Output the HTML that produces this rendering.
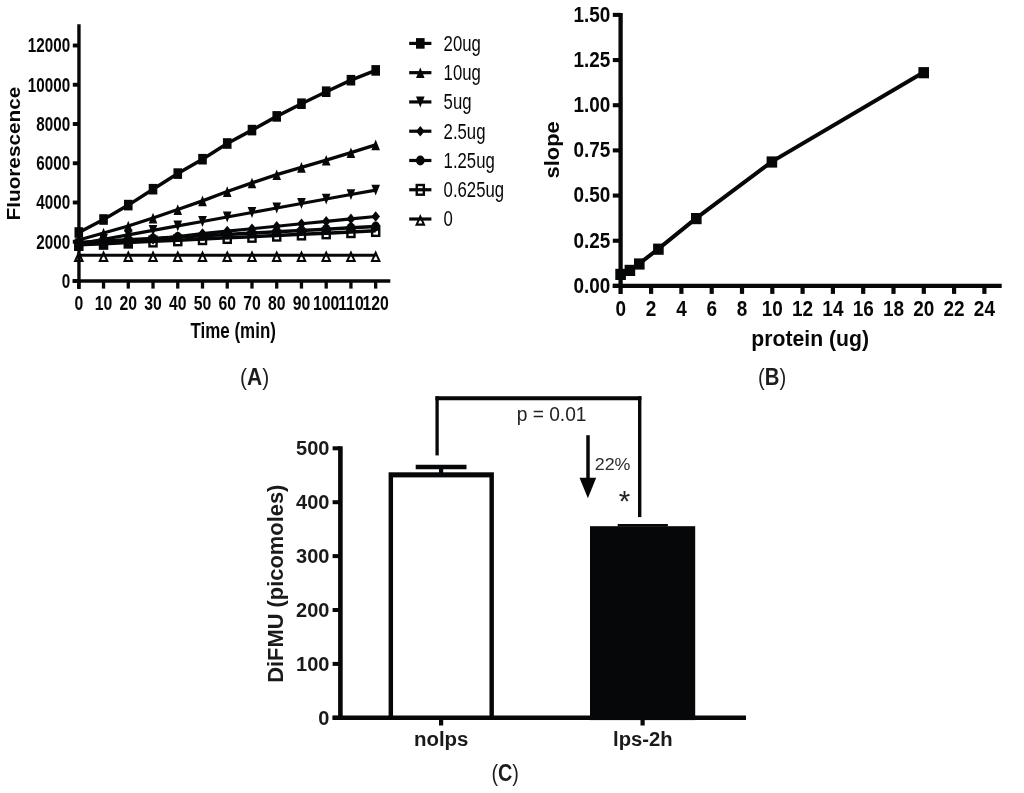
<!DOCTYPE html>
<html lang="en">
<head>
<meta charset="utf-8">
<title>Figure</title>
<style>
html,body{margin:0;padding:0;background:#fff;}
body{width:1024px;height:793px;overflow:hidden;}
svg{display:block;font-family:"Liberation Sans", sans-serif;}
</style>
</head>
<body>
<svg width="1024" height="793" viewBox="0 0 1024 793">
<rect x="0" y="0" width="1024" height="793" fill="#ffffff"/>
<g id="panelA">
<polygon points="78.80,252.80 82.50,260.90 75.10,260.90" fill="#fff" stroke="#060708" stroke-width="2.05" stroke-linejoin="miter"/>
<polygon points="103.54,252.80 107.24,260.90 99.84,260.90" fill="#fff" stroke="#060708" stroke-width="2.05" stroke-linejoin="miter"/>
<polygon points="128.28,252.80 131.98,260.90 124.58,260.90" fill="#fff" stroke="#060708" stroke-width="2.05" stroke-linejoin="miter"/>
<polygon points="153.02,252.80 156.72,260.90 149.32,260.90" fill="#fff" stroke="#060708" stroke-width="2.05" stroke-linejoin="miter"/>
<polygon points="177.76,252.80 181.46,260.90 174.06,260.90" fill="#fff" stroke="#060708" stroke-width="2.05" stroke-linejoin="miter"/>
<polygon points="202.50,252.80 206.20,260.90 198.80,260.90" fill="#fff" stroke="#060708" stroke-width="2.05" stroke-linejoin="miter"/>
<polygon points="227.24,252.80 230.94,260.90 223.54,260.90" fill="#fff" stroke="#060708" stroke-width="2.05" stroke-linejoin="miter"/>
<polygon points="251.98,252.80 255.68,260.90 248.28,260.90" fill="#fff" stroke="#060708" stroke-width="2.05" stroke-linejoin="miter"/>
<polygon points="276.72,252.80 280.42,260.90 273.02,260.90" fill="#fff" stroke="#060708" stroke-width="2.05" stroke-linejoin="miter"/>
<polygon points="301.46,252.80 305.16,260.90 297.76,260.90" fill="#fff" stroke="#060708" stroke-width="2.05" stroke-linejoin="miter"/>
<polygon points="326.20,252.80 329.90,260.90 322.50,260.90" fill="#fff" stroke="#060708" stroke-width="2.05" stroke-linejoin="miter"/>
<polygon points="350.94,252.80 354.64,260.90 347.24,260.90" fill="#fff" stroke="#060708" stroke-width="2.05" stroke-linejoin="miter"/>
<polygon points="375.68,252.80 379.38,260.90 371.98,260.90" fill="#fff" stroke="#060708" stroke-width="2.05" stroke-linejoin="miter"/>
<polyline points="78.80,255.30 103.54,255.30 128.28,255.30 153.02,255.30 177.76,255.30 202.50,255.30 227.24,255.30 251.98,255.30 276.72,255.30 301.46,255.30 326.20,255.30 350.94,255.30 375.68,255.30" fill="none" stroke="#060708" stroke-width="3.1" stroke-linejoin="miter"/>
<rect x="74.05" y="239.80" width="9.50" height="11.20" fill="#060708" stroke="none" stroke-width="0"/>
<rect x="98.79" y="238.63" width="9.50" height="11.20" fill="#060708" stroke="none" stroke-width="0"/>
<rect x="123.53" y="237.47" width="9.50" height="11.20" fill="#060708" stroke="none" stroke-width="0"/>
<rect x="149.47" y="236.65" width="7.10" height="9.70" fill="#fff" stroke="#060708" stroke-width="2.4"/>
<rect x="174.21" y="235.48" width="7.10" height="9.70" fill="#fff" stroke="#060708" stroke-width="2.4"/>
<rect x="198.95" y="234.32" width="7.10" height="9.70" fill="#fff" stroke="#060708" stroke-width="2.4"/>
<rect x="223.69" y="233.15" width="7.10" height="9.70" fill="#fff" stroke="#060708" stroke-width="2.4"/>
<rect x="248.43" y="231.98" width="7.10" height="9.70" fill="#fff" stroke="#060708" stroke-width="2.4"/>
<rect x="273.17" y="230.82" width="7.10" height="9.70" fill="#fff" stroke="#060708" stroke-width="2.4"/>
<rect x="297.91" y="229.65" width="7.10" height="9.70" fill="#fff" stroke="#060708" stroke-width="2.4"/>
<rect x="322.65" y="228.48" width="7.10" height="9.70" fill="#fff" stroke="#060708" stroke-width="2.4"/>
<rect x="347.39" y="227.32" width="7.10" height="9.70" fill="#fff" stroke="#060708" stroke-width="2.4"/>
<rect x="372.13" y="226.15" width="7.10" height="9.70" fill="#fff" stroke="#060708" stroke-width="2.4"/>
<polyline points="78.80,244.80 103.54,243.63 128.28,242.47 153.02,241.30 177.76,240.13 202.50,238.97 227.24,237.80 251.98,236.63 276.72,235.47 301.46,234.30 326.20,233.13 350.94,231.97 375.68,230.80" fill="none" stroke="#060708" stroke-width="3.5" stroke-linejoin="miter"/>
<polyline points="78.80,242.40 103.54,241.08 128.28,239.75 153.02,238.43 177.76,237.10 202.50,235.78 227.24,234.45 251.98,233.12 276.72,231.80 301.46,230.47 326.20,229.15 350.94,227.82 375.68,226.50" fill="none" stroke="#060708" stroke-width="3.5" stroke-linejoin="miter"/>
<ellipse cx="78.80" cy="242.40" rx="4.30" ry="5.00" fill="#060708"/>
<ellipse cx="103.54" cy="241.08" rx="4.30" ry="5.00" fill="#060708"/>
<ellipse cx="128.28" cy="239.75" rx="4.30" ry="5.00" fill="#060708"/>
<ellipse cx="153.02" cy="238.43" rx="4.30" ry="5.00" fill="#060708"/>
<ellipse cx="177.76" cy="237.10" rx="4.30" ry="5.00" fill="#060708"/>
<ellipse cx="202.50" cy="235.78" rx="4.30" ry="5.00" fill="#060708"/>
<ellipse cx="227.24" cy="234.45" rx="4.30" ry="5.00" fill="#060708"/>
<ellipse cx="251.98" cy="233.12" rx="4.30" ry="5.00" fill="#060708"/>
<ellipse cx="276.72" cy="231.80" rx="4.30" ry="5.00" fill="#060708"/>
<ellipse cx="301.46" cy="230.47" rx="4.30" ry="5.00" fill="#060708"/>
<ellipse cx="326.20" cy="229.15" rx="4.30" ry="5.00" fill="#060708"/>
<ellipse cx="350.94" cy="227.82" rx="4.30" ry="5.00" fill="#060708"/>
<ellipse cx="375.68" cy="226.50" rx="4.30" ry="5.00" fill="#060708"/>
<polyline points="78.80,243.30 103.54,242.40 128.28,241.00 153.02,239.30 177.76,236.50 202.50,233.60 227.24,231.10 251.98,228.70 276.72,226.20 301.46,223.80 326.20,221.40 350.94,218.90 375.68,216.50" fill="none" stroke="#060708" stroke-width="3.1" stroke-linejoin="miter"/>
<polygon points="78.80,238.00 83.10,243.30 78.80,248.60 74.50,243.30" fill="#060708" stroke="none" stroke-width="0" stroke-linejoin="miter"/>
<polygon points="103.54,237.10 107.84,242.40 103.54,247.70 99.24,242.40" fill="#060708" stroke="none" stroke-width="0" stroke-linejoin="miter"/>
<polygon points="128.28,235.70 132.58,241.00 128.28,246.30 123.98,241.00" fill="#060708" stroke="none" stroke-width="0" stroke-linejoin="miter"/>
<polygon points="153.02,234.00 157.32,239.30 153.02,244.60 148.72,239.30" fill="#060708" stroke="none" stroke-width="0" stroke-linejoin="miter"/>
<polygon points="177.76,231.20 182.06,236.50 177.76,241.80 173.46,236.50" fill="#060708" stroke="none" stroke-width="0" stroke-linejoin="miter"/>
<polygon points="202.50,228.30 206.80,233.60 202.50,238.90 198.20,233.60" fill="#060708" stroke="none" stroke-width="0" stroke-linejoin="miter"/>
<polygon points="227.24,225.80 231.54,231.10 227.24,236.40 222.94,231.10" fill="#060708" stroke="none" stroke-width="0" stroke-linejoin="miter"/>
<polygon points="251.98,223.40 256.28,228.70 251.98,234.00 247.68,228.70" fill="#060708" stroke="none" stroke-width="0" stroke-linejoin="miter"/>
<polygon points="276.72,220.90 281.02,226.20 276.72,231.50 272.42,226.20" fill="#060708" stroke="none" stroke-width="0" stroke-linejoin="miter"/>
<polygon points="301.46,218.50 305.76,223.80 301.46,229.10 297.16,223.80" fill="#060708" stroke="none" stroke-width="0" stroke-linejoin="miter"/>
<polygon points="326.20,216.10 330.50,221.40 326.20,226.70 321.90,221.40" fill="#060708" stroke="none" stroke-width="0" stroke-linejoin="miter"/>
<polygon points="350.94,213.60 355.24,218.90 350.94,224.20 346.64,218.90" fill="#060708" stroke="none" stroke-width="0" stroke-linejoin="miter"/>
<polygon points="375.68,211.20 379.98,216.50 375.68,221.80 371.38,216.50" fill="#060708" stroke="none" stroke-width="0" stroke-linejoin="miter"/>
<polyline points="78.80,243.80 103.54,239.33 128.28,234.85 153.02,230.38 177.76,225.90 202.50,221.43 227.24,216.95 251.98,212.47 276.72,208.00 301.46,203.53 326.20,199.05 350.94,194.57 375.68,190.10" fill="none" stroke="#060708" stroke-width="3.1" stroke-linejoin="miter"/>
<polygon points="74.50,238.40 83.10,238.40 78.80,249.30" fill="#060708" stroke="none" stroke-width="0" stroke-linejoin="miter"/>
<polygon points="99.24,233.93 107.84,233.93 103.54,244.83" fill="#060708" stroke="none" stroke-width="0" stroke-linejoin="miter"/>
<polygon points="123.98,229.45 132.58,229.45 128.28,240.35" fill="#060708" stroke="none" stroke-width="0" stroke-linejoin="miter"/>
<polygon points="148.72,224.97 157.32,224.97 153.02,235.88" fill="#060708" stroke="none" stroke-width="0" stroke-linejoin="miter"/>
<polygon points="173.46,220.50 182.06,220.50 177.76,231.40" fill="#060708" stroke="none" stroke-width="0" stroke-linejoin="miter"/>
<polygon points="198.20,216.03 206.80,216.03 202.50,226.93" fill="#060708" stroke="none" stroke-width="0" stroke-linejoin="miter"/>
<polygon points="222.94,211.55 231.54,211.55 227.24,222.45" fill="#060708" stroke="none" stroke-width="0" stroke-linejoin="miter"/>
<polygon points="247.68,207.07 256.28,207.07 251.98,217.97" fill="#060708" stroke="none" stroke-width="0" stroke-linejoin="miter"/>
<polygon points="272.42,202.60 281.02,202.60 276.72,213.50" fill="#060708" stroke="none" stroke-width="0" stroke-linejoin="miter"/>
<polygon points="297.16,198.12 305.76,198.12 301.46,209.03" fill="#060708" stroke="none" stroke-width="0" stroke-linejoin="miter"/>
<polygon points="321.90,193.65 330.50,193.65 326.20,204.55" fill="#060708" stroke="none" stroke-width="0" stroke-linejoin="miter"/>
<polygon points="346.64,189.17 355.24,189.17 350.94,200.07" fill="#060708" stroke="none" stroke-width="0" stroke-linejoin="miter"/>
<polygon points="371.38,184.70 379.98,184.70 375.68,195.60" fill="#060708" stroke="none" stroke-width="0" stroke-linejoin="miter"/>
<polyline points="78.80,240.00 103.54,233.00 128.28,226.00 153.02,218.00 177.76,209.50 202.50,200.80 227.24,191.50 251.98,182.90 276.72,174.70 301.46,167.30 326.20,160.10 350.94,152.60 375.68,144.80" fill="none" stroke="#060708" stroke-width="3.35" stroke-linejoin="miter"/>
<polygon points="78.80,234.80 83.10,245.40 74.50,245.40" fill="#060708" stroke="none" stroke-width="0" stroke-linejoin="miter"/>
<polygon points="103.54,227.80 107.84,238.40 99.24,238.40" fill="#060708" stroke="none" stroke-width="0" stroke-linejoin="miter"/>
<polygon points="128.28,220.80 132.58,231.40 123.98,231.40" fill="#060708" stroke="none" stroke-width="0" stroke-linejoin="miter"/>
<polygon points="153.02,212.80 157.32,223.40 148.72,223.40" fill="#060708" stroke="none" stroke-width="0" stroke-linejoin="miter"/>
<polygon points="177.76,204.30 182.06,214.90 173.46,214.90" fill="#060708" stroke="none" stroke-width="0" stroke-linejoin="miter"/>
<polygon points="202.50,195.60 206.80,206.20 198.20,206.20" fill="#060708" stroke="none" stroke-width="0" stroke-linejoin="miter"/>
<polygon points="227.24,186.30 231.54,196.90 222.94,196.90" fill="#060708" stroke="none" stroke-width="0" stroke-linejoin="miter"/>
<polygon points="251.98,177.70 256.28,188.30 247.68,188.30" fill="#060708" stroke="none" stroke-width="0" stroke-linejoin="miter"/>
<polygon points="276.72,169.50 281.02,180.10 272.42,180.10" fill="#060708" stroke="none" stroke-width="0" stroke-linejoin="miter"/>
<polygon points="301.46,162.10 305.76,172.70 297.16,172.70" fill="#060708" stroke="none" stroke-width="0" stroke-linejoin="miter"/>
<polygon points="326.20,154.90 330.50,165.50 321.90,165.50" fill="#060708" stroke="none" stroke-width="0" stroke-linejoin="miter"/>
<polygon points="350.94,147.40 355.24,158.00 346.64,158.00" fill="#060708" stroke="none" stroke-width="0" stroke-linejoin="miter"/>
<polygon points="375.68,139.60 379.98,150.20 371.38,150.20" fill="#060708" stroke="none" stroke-width="0" stroke-linejoin="miter"/>
<polyline points="78.80,232.50 103.54,219.50 128.28,205.10 153.02,189.20 177.76,173.60 202.50,159.20 227.24,143.50 251.98,130.10 276.72,116.40 301.46,103.70 326.20,91.70 350.94,80.20 375.68,70.40" fill="none" stroke="#060708" stroke-width="3.5" stroke-linejoin="miter"/>
<rect x="74.50" y="227.20" width="8.60" height="10.60" fill="#060708" stroke="none" stroke-width="0"/>
<rect x="99.24" y="214.20" width="8.60" height="10.60" fill="#060708" stroke="none" stroke-width="0"/>
<rect x="123.98" y="199.80" width="8.60" height="10.60" fill="#060708" stroke="none" stroke-width="0"/>
<rect x="148.72" y="183.90" width="8.60" height="10.60" fill="#060708" stroke="none" stroke-width="0"/>
<rect x="173.46" y="168.30" width="8.60" height="10.60" fill="#060708" stroke="none" stroke-width="0"/>
<rect x="198.20" y="153.90" width="8.60" height="10.60" fill="#060708" stroke="none" stroke-width="0"/>
<rect x="222.94" y="138.20" width="8.60" height="10.60" fill="#060708" stroke="none" stroke-width="0"/>
<rect x="247.68" y="124.80" width="8.60" height="10.60" fill="#060708" stroke="none" stroke-width="0"/>
<rect x="272.42" y="111.10" width="8.60" height="10.60" fill="#060708" stroke="none" stroke-width="0"/>
<rect x="297.16" y="98.40" width="8.60" height="10.60" fill="#060708" stroke="none" stroke-width="0"/>
<rect x="321.90" y="86.40" width="8.60" height="10.60" fill="#060708" stroke="none" stroke-width="0"/>
<rect x="346.64" y="74.90" width="8.60" height="10.60" fill="#060708" stroke="none" stroke-width="0"/>
<rect x="371.38" y="65.10" width="8.60" height="10.60" fill="#060708" stroke="none" stroke-width="0"/>
<line x1="78.95" y1="24.20" x2="78.95" y2="289.00" stroke="#060708" stroke-width="3.4" stroke-linecap="butt"/>
<line x1="72.60" y1="281.00" x2="390.30" y2="281.00" stroke="#060708" stroke-width="3.4" stroke-linecap="butt"/>
<line x1="72.80" y1="281.00" x2="79.00" y2="281.00" stroke="#060708" stroke-width="3.9" stroke-linecap="butt"/>
<text transform="translate(70.10 287.80) scale(0.757 1.000)" font-size="20.1" font-weight="bold" text-anchor="end" fill="#060708">0</text>
<line x1="72.80" y1="241.75" x2="79.00" y2="241.75" stroke="#060708" stroke-width="3.9" stroke-linecap="butt"/>
<text transform="translate(70.10 248.55) scale(0.757 1.000)" font-size="20.1" font-weight="bold" text-anchor="end" fill="#060708">2000</text>
<line x1="72.80" y1="202.50" x2="79.00" y2="202.50" stroke="#060708" stroke-width="3.9" stroke-linecap="butt"/>
<text transform="translate(70.10 209.30) scale(0.757 1.000)" font-size="20.1" font-weight="bold" text-anchor="end" fill="#060708">4000</text>
<line x1="72.80" y1="163.25" x2="79.00" y2="163.25" stroke="#060708" stroke-width="3.9" stroke-linecap="butt"/>
<text transform="translate(70.10 170.05) scale(0.757 1.000)" font-size="20.1" font-weight="bold" text-anchor="end" fill="#060708">6000</text>
<line x1="72.80" y1="124.00" x2="79.00" y2="124.00" stroke="#060708" stroke-width="3.9" stroke-linecap="butt"/>
<text transform="translate(70.10 130.80) scale(0.757 1.000)" font-size="20.1" font-weight="bold" text-anchor="end" fill="#060708">8000</text>
<line x1="72.80" y1="84.75" x2="79.00" y2="84.75" stroke="#060708" stroke-width="3.9" stroke-linecap="butt"/>
<text transform="translate(70.10 91.55) scale(0.757 1.000)" font-size="20.1" font-weight="bold" text-anchor="end" fill="#060708">10000</text>
<line x1="72.80" y1="45.50" x2="79.00" y2="45.50" stroke="#060708" stroke-width="3.9" stroke-linecap="butt"/>
<text transform="translate(70.10 52.30) scale(0.757 1.000)" font-size="20.1" font-weight="bold" text-anchor="end" fill="#060708">12000</text>
<line x1="78.80" y1="281.00" x2="78.80" y2="288.60" stroke="#060708" stroke-width="3.3" stroke-linecap="butt"/>
<text transform="translate(78.80 309.70) scale(0.785 1.000)" font-size="20.1" font-weight="bold" text-anchor="middle" fill="#060708">0</text>
<line x1="103.54" y1="281.00" x2="103.54" y2="288.60" stroke="#060708" stroke-width="3.3" stroke-linecap="butt"/>
<text transform="translate(103.54 309.70) scale(0.785 1.000)" font-size="20.1" font-weight="bold" text-anchor="middle" fill="#060708">10</text>
<line x1="128.28" y1="281.00" x2="128.28" y2="288.60" stroke="#060708" stroke-width="3.3" stroke-linecap="butt"/>
<text transform="translate(128.28 309.70) scale(0.785 1.000)" font-size="20.1" font-weight="bold" text-anchor="middle" fill="#060708">20</text>
<line x1="153.02" y1="281.00" x2="153.02" y2="288.60" stroke="#060708" stroke-width="3.3" stroke-linecap="butt"/>
<text transform="translate(153.02 309.70) scale(0.785 1.000)" font-size="20.1" font-weight="bold" text-anchor="middle" fill="#060708">30</text>
<line x1="177.76" y1="281.00" x2="177.76" y2="288.60" stroke="#060708" stroke-width="3.3" stroke-linecap="butt"/>
<text transform="translate(177.76 309.70) scale(0.785 1.000)" font-size="20.1" font-weight="bold" text-anchor="middle" fill="#060708">40</text>
<line x1="202.50" y1="281.00" x2="202.50" y2="288.60" stroke="#060708" stroke-width="3.3" stroke-linecap="butt"/>
<text transform="translate(202.50 309.70) scale(0.785 1.000)" font-size="20.1" font-weight="bold" text-anchor="middle" fill="#060708">50</text>
<line x1="227.24" y1="281.00" x2="227.24" y2="288.60" stroke="#060708" stroke-width="3.3" stroke-linecap="butt"/>
<text transform="translate(227.24 309.70) scale(0.785 1.000)" font-size="20.1" font-weight="bold" text-anchor="middle" fill="#060708">60</text>
<line x1="251.98" y1="281.00" x2="251.98" y2="288.60" stroke="#060708" stroke-width="3.3" stroke-linecap="butt"/>
<text transform="translate(251.98 309.70) scale(0.785 1.000)" font-size="20.1" font-weight="bold" text-anchor="middle" fill="#060708">70</text>
<line x1="276.72" y1="281.00" x2="276.72" y2="288.60" stroke="#060708" stroke-width="3.3" stroke-linecap="butt"/>
<text transform="translate(276.72 309.70) scale(0.785 1.000)" font-size="20.1" font-weight="bold" text-anchor="middle" fill="#060708">80</text>
<line x1="301.46" y1="281.00" x2="301.46" y2="288.60" stroke="#060708" stroke-width="3.3" stroke-linecap="butt"/>
<text transform="translate(301.46 309.70) scale(0.785 1.000)" font-size="20.1" font-weight="bold" text-anchor="middle" fill="#060708">90</text>
<line x1="326.20" y1="281.00" x2="326.20" y2="288.60" stroke="#060708" stroke-width="3.3" stroke-linecap="butt"/>
<text transform="translate(326.20 309.70) scale(0.785 1.000)" font-size="20.1" font-weight="bold" text-anchor="middle" fill="#060708">100</text>
<line x1="350.94" y1="281.00" x2="350.94" y2="288.60" stroke="#060708" stroke-width="3.3" stroke-linecap="butt"/>
<text transform="translate(350.94 309.70) scale(0.785 1.000)" font-size="20.1" font-weight="bold" text-anchor="middle" fill="#060708">110</text>
<line x1="375.68" y1="281.00" x2="375.68" y2="288.60" stroke="#060708" stroke-width="3.3" stroke-linecap="butt"/>
<text transform="translate(375.68 309.70) scale(0.785 1.000)" font-size="20.1" font-weight="bold" text-anchor="middle" fill="#060708">120</text>
<text transform="translate(233.20 337.70) scale(0.767 1.000)" font-size="22.1" font-weight="bold" text-anchor="middle" fill="#060708">Time (min)</text>
<text transform="translate(19.60 153.60) rotate(-90) scale(1.000 0.865)" font-size="20.75" font-weight="bold" text-anchor="middle" fill="#060708">Fluorescence</text>
<line x1="409.20" y1="43.40" x2="431.40" y2="43.40" stroke="#060708" stroke-width="3.2" stroke-linecap="butt"/>
<rect x="416.00" y="38.10" width="8.60" height="10.60" fill="#060708" stroke="none" stroke-width="0"/>
<text transform="translate(443.60 50.80) scale(0.744 1.000)" font-size="22.5" font-weight="normal" text-anchor="start" fill="#060708">20ug</text>
<line x1="409.20" y1="72.67" x2="431.40" y2="72.67" stroke="#060708" stroke-width="3.2" stroke-linecap="butt"/>
<polygon points="420.30,67.47 424.60,78.07 416.00,78.07" fill="#060708" stroke="none" stroke-width="0" stroke-linejoin="miter"/>
<text transform="translate(443.60 80.07) scale(0.744 1.000)" font-size="22.5" font-weight="normal" text-anchor="start" fill="#060708">10ug</text>
<line x1="409.20" y1="101.94" x2="431.40" y2="101.94" stroke="#060708" stroke-width="3.2" stroke-linecap="butt"/>
<polygon points="416.00,96.54 424.60,96.54 420.30,107.44" fill="#060708" stroke="none" stroke-width="0" stroke-linejoin="miter"/>
<text transform="translate(443.60 109.34) scale(0.744 1.000)" font-size="22.5" font-weight="normal" text-anchor="start" fill="#060708">5ug</text>
<line x1="409.20" y1="131.21" x2="431.40" y2="131.21" stroke="#060708" stroke-width="3.2" stroke-linecap="butt"/>
<polygon points="420.30,125.91 424.60,131.21 420.30,136.51 416.00,131.21" fill="#060708" stroke="none" stroke-width="0" stroke-linejoin="miter"/>
<text transform="translate(443.60 138.61) scale(0.744 1.000)" font-size="22.5" font-weight="normal" text-anchor="start" fill="#060708">2.5ug</text>
<line x1="409.20" y1="160.48" x2="431.40" y2="160.48" stroke="#060708" stroke-width="3.2" stroke-linecap="butt"/>
<ellipse cx="420.30" cy="160.48" rx="4.30" ry="5.00" fill="#060708"/>
<text transform="translate(443.60 167.88) scale(0.744 1.000)" font-size="22.5" font-weight="normal" text-anchor="start" fill="#060708">1.25ug</text>
<rect x="416.75" y="185.00" width="7.10" height="9.70" fill="#fff" stroke="#060708" stroke-width="2.4"/>
<line x1="409.20" y1="189.75" x2="431.40" y2="189.75" stroke="#060708" stroke-width="3.2" stroke-linecap="butt"/>
<text transform="translate(443.60 197.15) scale(0.744 1.000)" font-size="22.5" font-weight="normal" text-anchor="start" fill="#060708">0.625ug</text>
<polygon points="420.30,216.52 424.00,224.62 416.60,224.62" fill="#fff" stroke="#060708" stroke-width="2.05" stroke-linejoin="miter"/>
<line x1="409.20" y1="219.02" x2="431.40" y2="219.02" stroke="#060708" stroke-width="3.2" stroke-linecap="butt"/>
<text transform="translate(443.60 226.42) scale(0.744 1.000)" font-size="22.5" font-weight="normal" text-anchor="start" fill="#060708">0</text>
</g>
<text transform="translate(254.60 384.90) scale(0.905 1.000)" font-size="23.2" font-weight="bold" text-anchor="middle" fill="#1c1c1c"><tspan font-weight="normal">(</tspan>A<tspan font-weight="normal">)</tspan></text>
<g id="panelB">
<polyline points="620.60,274.00 629.90,270.00 639.30,263.60 658.40,248.80 696.30,218.20 771.90,161.60 923.70,72.30" fill="none" stroke="#060708" stroke-width="4.0" stroke-linejoin="miter"/>
<rect x="615.30" y="268.80" width="10.60" height="11.20" fill="#060708" stroke="none" stroke-width="0"/>
<rect x="624.60" y="264.80" width="10.60" height="11.20" fill="#060708" stroke="none" stroke-width="0"/>
<rect x="634.00" y="258.40" width="10.60" height="11.20" fill="#060708" stroke="none" stroke-width="0"/>
<rect x="653.10" y="243.60" width="10.60" height="11.20" fill="#060708" stroke="none" stroke-width="0"/>
<rect x="691.00" y="213.00" width="10.60" height="11.20" fill="#060708" stroke="none" stroke-width="0"/>
<rect x="766.60" y="156.40" width="10.60" height="11.20" fill="#060708" stroke="none" stroke-width="0"/>
<rect x="918.40" y="67.10" width="10.60" height="11.20" fill="#060708" stroke="none" stroke-width="0"/>
<line x1="620.60" y1="12.90" x2="620.60" y2="293.90" stroke="#060708" stroke-width="4.3" stroke-linecap="butt"/>
<line x1="612.80" y1="285.90" x2="1001.70" y2="285.90" stroke="#060708" stroke-width="4.3" stroke-linecap="butt"/>
<line x1="612.80" y1="285.90" x2="620.60" y2="285.90" stroke="#060708" stroke-width="4.1" stroke-linecap="butt"/>
<text transform="translate(610.40 292.70) scale(0.885 1.000)" font-size="21.4" font-weight="bold" text-anchor="end" fill="#060708">0.00</text>
<line x1="612.80" y1="240.73" x2="620.60" y2="240.73" stroke="#060708" stroke-width="4.1" stroke-linecap="butt"/>
<text transform="translate(610.40 247.53) scale(0.885 1.000)" font-size="21.4" font-weight="bold" text-anchor="end" fill="#060708">0.25</text>
<line x1="612.80" y1="195.56" x2="620.60" y2="195.56" stroke="#060708" stroke-width="4.1" stroke-linecap="butt"/>
<text transform="translate(610.40 202.36) scale(0.885 1.000)" font-size="21.4" font-weight="bold" text-anchor="end" fill="#060708">0.50</text>
<line x1="612.80" y1="150.39" x2="620.60" y2="150.39" stroke="#060708" stroke-width="4.1" stroke-linecap="butt"/>
<text transform="translate(610.40 157.19) scale(0.885 1.000)" font-size="21.4" font-weight="bold" text-anchor="end" fill="#060708">0.75</text>
<line x1="612.80" y1="105.22" x2="620.60" y2="105.22" stroke="#060708" stroke-width="4.1" stroke-linecap="butt"/>
<text transform="translate(610.40 112.02) scale(0.885 1.000)" font-size="21.4" font-weight="bold" text-anchor="end" fill="#060708">1.00</text>
<line x1="612.80" y1="60.05" x2="620.60" y2="60.05" stroke="#060708" stroke-width="4.1" stroke-linecap="butt"/>
<text transform="translate(610.40 66.85) scale(0.885 1.000)" font-size="21.4" font-weight="bold" text-anchor="end" fill="#060708">1.25</text>
<line x1="612.80" y1="14.88" x2="620.60" y2="14.88" stroke="#060708" stroke-width="4.1" stroke-linecap="butt"/>
<text transform="translate(610.40 21.68) scale(0.885 1.000)" font-size="21.4" font-weight="bold" text-anchor="end" fill="#060708">1.50</text>
<line x1="651.10" y1="285.90" x2="651.10" y2="293.90" stroke="#060708" stroke-width="4.2" stroke-linecap="butt"/>
<line x1="681.40" y1="285.90" x2="681.40" y2="293.90" stroke="#060708" stroke-width="4.2" stroke-linecap="butt"/>
<line x1="711.70" y1="285.90" x2="711.70" y2="293.90" stroke="#060708" stroke-width="4.2" stroke-linecap="butt"/>
<line x1="742.00" y1="285.90" x2="742.00" y2="293.90" stroke="#060708" stroke-width="4.2" stroke-linecap="butt"/>
<line x1="772.30" y1="285.90" x2="772.30" y2="293.90" stroke="#060708" stroke-width="4.2" stroke-linecap="butt"/>
<line x1="802.60" y1="285.90" x2="802.60" y2="293.90" stroke="#060708" stroke-width="4.2" stroke-linecap="butt"/>
<line x1="832.90" y1="285.90" x2="832.90" y2="293.90" stroke="#060708" stroke-width="4.2" stroke-linecap="butt"/>
<line x1="863.20" y1="285.90" x2="863.20" y2="293.90" stroke="#060708" stroke-width="4.2" stroke-linecap="butt"/>
<line x1="893.50" y1="285.90" x2="893.50" y2="293.90" stroke="#060708" stroke-width="4.2" stroke-linecap="butt"/>
<line x1="923.80" y1="285.90" x2="923.80" y2="293.90" stroke="#060708" stroke-width="4.2" stroke-linecap="butt"/>
<line x1="954.10" y1="285.90" x2="954.10" y2="293.90" stroke="#060708" stroke-width="4.2" stroke-linecap="butt"/>
<line x1="984.40" y1="285.90" x2="984.40" y2="293.90" stroke="#060708" stroke-width="4.2" stroke-linecap="butt"/>
<text transform="translate(620.80 316.30) scale(0.870 1.000)" font-size="21.8" font-weight="bold" text-anchor="middle" fill="#060708">0</text>
<text transform="translate(651.10 316.30) scale(0.870 1.000)" font-size="21.8" font-weight="bold" text-anchor="middle" fill="#060708">2</text>
<text transform="translate(681.40 316.30) scale(0.870 1.000)" font-size="21.8" font-weight="bold" text-anchor="middle" fill="#060708">4</text>
<text transform="translate(711.70 316.30) scale(0.870 1.000)" font-size="21.8" font-weight="bold" text-anchor="middle" fill="#060708">6</text>
<text transform="translate(742.00 316.30) scale(0.870 1.000)" font-size="21.8" font-weight="bold" text-anchor="middle" fill="#060708">8</text>
<text transform="translate(772.30 316.30) scale(0.870 1.000)" font-size="21.8" font-weight="bold" text-anchor="middle" fill="#060708">10</text>
<text transform="translate(802.60 316.30) scale(0.870 1.000)" font-size="21.8" font-weight="bold" text-anchor="middle" fill="#060708">12</text>
<text transform="translate(832.90 316.30) scale(0.870 1.000)" font-size="21.8" font-weight="bold" text-anchor="middle" fill="#060708">14</text>
<text transform="translate(863.20 316.30) scale(0.870 1.000)" font-size="21.8" font-weight="bold" text-anchor="middle" fill="#060708">16</text>
<text transform="translate(893.50 316.30) scale(0.870 1.000)" font-size="21.8" font-weight="bold" text-anchor="middle" fill="#060708">18</text>
<text transform="translate(923.80 316.30) scale(0.870 1.000)" font-size="21.8" font-weight="bold" text-anchor="middle" fill="#060708">20</text>
<text transform="translate(954.10 316.30) scale(0.870 1.000)" font-size="21.8" font-weight="bold" text-anchor="middle" fill="#060708">22</text>
<text transform="translate(984.40 316.30) scale(0.870 1.000)" font-size="21.8" font-weight="bold" text-anchor="middle" fill="#060708">24</text>
<text transform="translate(810.20 346.10) scale(0.930 1.000)" font-size="22.8" font-weight="bold" text-anchor="middle" fill="#060708">protein (ug)</text>
<text transform="translate(558.70 149.80) rotate(-90) scale(1.000 0.915)" font-size="21.9" font-weight="bold" text-anchor="middle" fill="#060708">slope</text>
</g>
<text transform="translate(772.10 384.90) scale(0.875 1.000)" font-size="23.2" font-weight="bold" text-anchor="middle" fill="#1c1c1c"><tspan font-weight="normal">(</tspan>B<tspan font-weight="normal">)</tspan></text>
<g id="panelC">
<rect x="388.60" y="472.30" width="105.30" height="245.50" fill="#060708" stroke="none" stroke-width="0"/>
<rect x="393.05" y="477.40" width="96.40" height="240.40" fill="#fff" stroke="none" stroke-width="0"/>
<line x1="441.10" y1="467.00" x2="441.10" y2="473.00" stroke="#060708" stroke-width="4.2" stroke-linecap="butt"/>
<line x1="415.70" y1="467.00" x2="466.50" y2="467.00" stroke="#060708" stroke-width="4.5" stroke-linecap="butt"/>
<rect x="590.00" y="526.20" width="105.20" height="193.90" fill="#050708" stroke="none" stroke-width="0"/>
<line x1="617.70" y1="525.30" x2="667.90" y2="525.30" stroke="#050708" stroke-width="2.4" stroke-linecap="butt"/>
<line x1="340.40" y1="446.20" x2="340.40" y2="720.10" stroke="#060708" stroke-width="4.6" stroke-linecap="butt"/>
<line x1="332.60" y1="717.70" x2="746.00" y2="717.70" stroke="#060708" stroke-width="4.5" stroke-linecap="butt"/>
<line x1="332.60" y1="717.80" x2="340.40" y2="717.80" stroke="#060708" stroke-width="4.0" stroke-linecap="butt"/>
<text transform="translate(329.40 724.60) scale(0.972 1.000)" font-size="20.6" font-weight="bold" text-anchor="end" fill="#1a1a1a">0</text>
<line x1="332.60" y1="663.90" x2="340.40" y2="663.90" stroke="#060708" stroke-width="4.0" stroke-linecap="butt"/>
<text transform="translate(329.40 670.70) scale(0.972 1.000)" font-size="20.6" font-weight="bold" text-anchor="end" fill="#1a1a1a">100</text>
<line x1="332.60" y1="610.00" x2="340.40" y2="610.00" stroke="#060708" stroke-width="4.0" stroke-linecap="butt"/>
<text transform="translate(329.40 616.80) scale(0.972 1.000)" font-size="20.6" font-weight="bold" text-anchor="end" fill="#1a1a1a">200</text>
<line x1="332.60" y1="556.10" x2="340.40" y2="556.10" stroke="#060708" stroke-width="4.0" stroke-linecap="butt"/>
<text transform="translate(329.40 562.90) scale(0.972 1.000)" font-size="20.6" font-weight="bold" text-anchor="end" fill="#1a1a1a">300</text>
<line x1="332.60" y1="502.20" x2="340.40" y2="502.20" stroke="#060708" stroke-width="4.0" stroke-linecap="butt"/>
<text transform="translate(329.40 509.00) scale(0.972 1.000)" font-size="20.6" font-weight="bold" text-anchor="end" fill="#1a1a1a">400</text>
<line x1="332.60" y1="448.30" x2="340.40" y2="448.30" stroke="#060708" stroke-width="4.0" stroke-linecap="butt"/>
<text transform="translate(329.40 455.10) scale(0.972 1.000)" font-size="20.6" font-weight="bold" text-anchor="end" fill="#1a1a1a">500</text>
<line x1="441.10" y1="717.80" x2="441.10" y2="725.50" stroke="#060708" stroke-width="4.2" stroke-linecap="butt"/>
<line x1="642.60" y1="717.80" x2="642.60" y2="725.50" stroke="#060708" stroke-width="4.2" stroke-linecap="butt"/>
<text transform="translate(441.20 746.40) scale(1.022 1.000)" font-size="20.0" font-weight="bold" text-anchor="middle" fill="#1a1a1a">nolps</text>
<text transform="translate(642.90 746.40) scale(1.012 1.000)" font-size="20.0" font-weight="bold" text-anchor="middle" fill="#1a1a1a">lps-2h</text>
<text transform="translate(282.70 583.70) rotate(-90) scale(1.000 1.040)" font-size="21.9" font-weight="bold" text-anchor="middle" fill="#1a1a1a">DiFMU (picomoles)</text>
<line x1="437.10" y1="396.30" x2="437.10" y2="455.40" stroke="#060708" stroke-width="3.3" stroke-linecap="butt"/>
<line x1="639.70" y1="396.30" x2="639.70" y2="517.10" stroke="#060708" stroke-width="3.4" stroke-linecap="butt"/>
<line x1="435.45" y1="398.25" x2="641.40" y2="398.25" stroke="#060708" stroke-width="3.9" stroke-linecap="butt"/>
<text transform="translate(551.60 420.90) scale(0.923 1.000)" font-size="20.8" font-weight="normal" text-anchor="middle" fill="#222">p = 0.01</text>
<line x1="588.00" y1="435.20" x2="588.00" y2="480.00" stroke="#060708" stroke-width="3.5" stroke-linecap="butt"/>
<polygon points="579.50,477.70 596.20,477.70 587.90,498.30" fill="#060708" stroke="none" stroke-width="0" stroke-linejoin="miter"/>
<text transform="translate(612.60 469.70) scale(1.040 1.000)" font-size="17.2" font-weight="normal" text-anchor="middle" fill="#2c2c2c">22%</text>
<text transform="translate(624.60 511.20)" font-size="29.5" font-weight="normal" text-anchor="middle" fill="#222">*</text>
</g>
<text transform="translate(505.20 780.60) scale(0.855 1.000)" font-size="23.2" font-weight="bold" text-anchor="middle" fill="#1c1c1c"><tspan font-weight="normal">(</tspan>C<tspan font-weight="normal">)</tspan></text>
</svg>
</body>
</html>
